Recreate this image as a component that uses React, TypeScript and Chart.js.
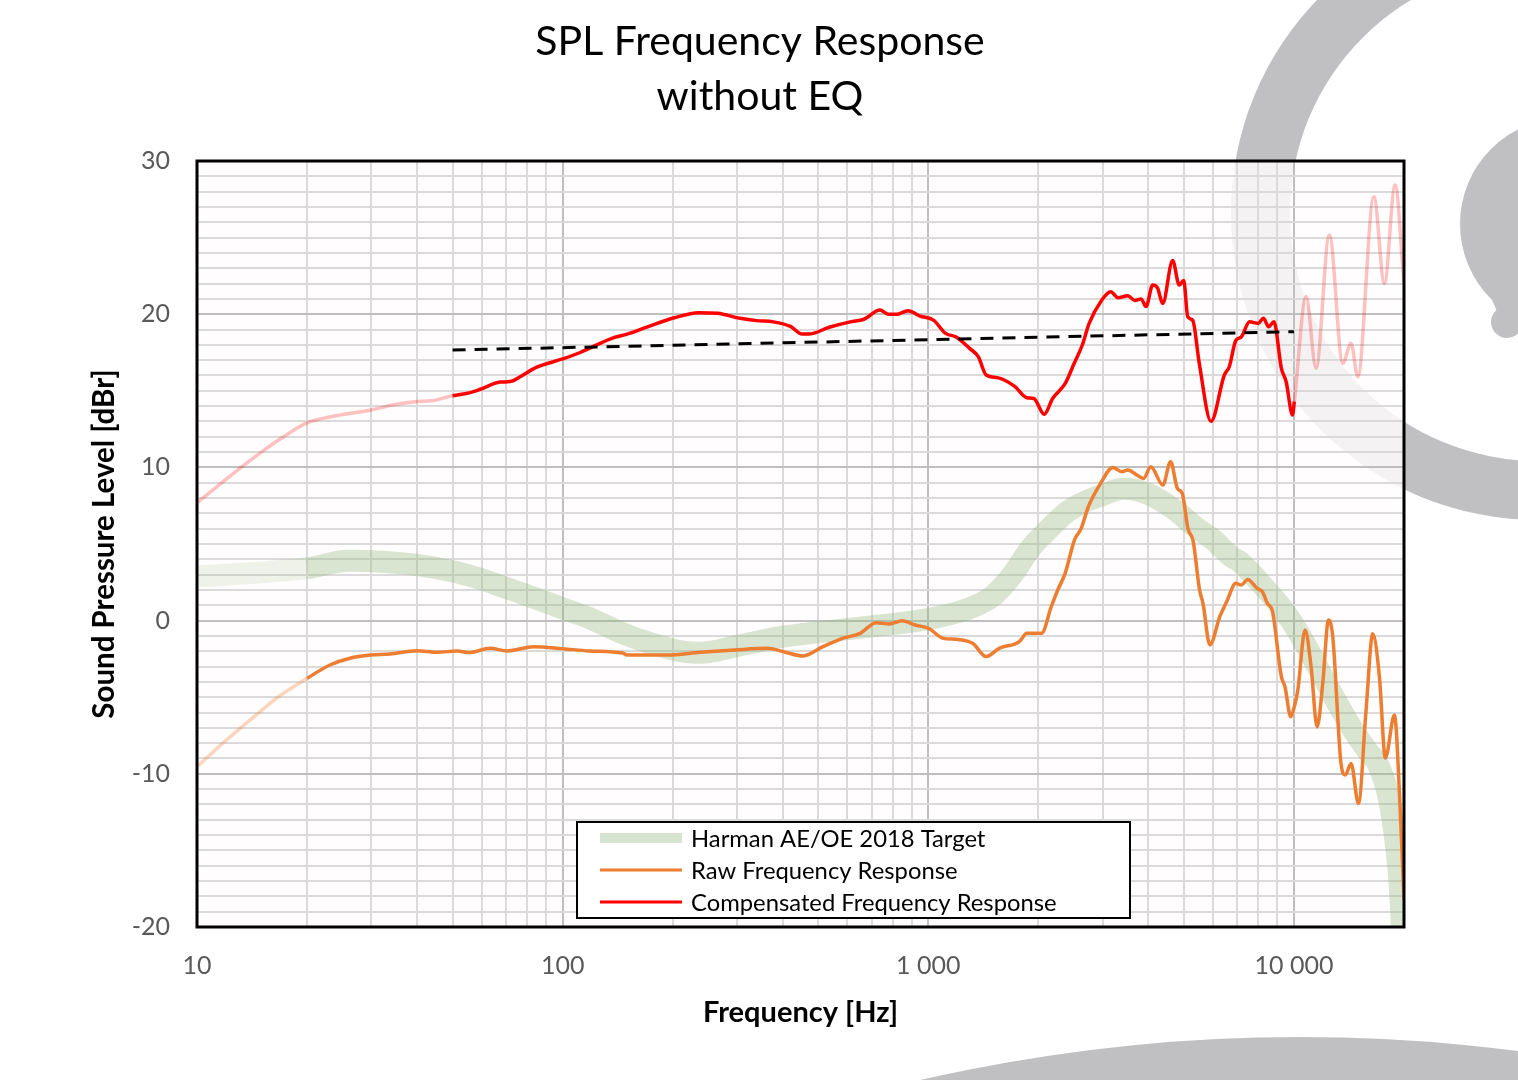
import React, { useEffect, useRef } from 'react';
import { Chart, registerables } from 'chart.js';

Chart.register(...registerables);

const FONT = 'Lato, "Open Sans", "DejaVu Sans", sans-serif';

// ---- text ----
const titleLines = ['SPL Frequency Response', 'without EQ'];
const xAxisTitle = 'Frequency [Hz]';
const yAxisTitle = 'Sound Pressure Level [dBr]';
const legendLabels = ['Harman AE/OE 2018 Target', 'Raw Frequency Response', 'Compensated Frequency Response'];

// ---- ticks ----
const xLabelValues = [10, 100, 1000, 10000];
const xLabelTexts = ['10', '100', '1 000', '10 000'];
const xGridValues = [
  10, 20, 30, 40, 50, 60, 70, 80, 90,
  100, 200, 300, 400, 500, 600, 700, 800, 900,
  1000, 2000, 3000, 4000, 5000, 6000, 7000, 8000, 9000,
  10000, 20000,
];
const yLabelValues = [-20, -10, 0, 10, 20, 30];
const yGridValues: number[] = [];
for (let v = -20; v <= 30; v++) yGridValues.push(v);

// ---- Harman AE/OE 2018 target ----
const harmanFreq = [10, 15, 20, 26, 30, 40, 51, 60, 70, 80, 100, 120, 146, 170, 214, 240, 300, 400, 550, 750, 1000, 1280, 1500, 1700, 1900, 2100, 2370, 2650, 2960, 3420, 3960, 4680, 5450, 6000, 6800, 7100, 8200, 9000, 10000, 11000, 12400, 14300, 16000, 17000, 18500, 19500, 20000];
const harmanDb = [2.87, 3.15, 3.42, 3.9, 3.87, 3.63, 3.17, 2.7, 2.13, 1.65, 0.8, 0.1, -0.83, -1.4, -2.03, -2.1, -1.65, -1.05, -0.65, -0.3, 0.1, 0.75, 1.6, 3.0, 4.7, 5.8, 7.0, 7.7, 8.15, 8.6, 8.3, 7.3, 6.0, 5.3, 4.1, 3.85, 2.3, 1.2, -0.3, -2.0, -4.3, -6.9, -8.6, -9.4, -12.6, -17.5, -23];

// ---- Raw frequency response ----
const rawFreq = [10, 11.9, 14.7, 16.7, 20, 23.1, 26.2, 29.8, 33.7, 39.9, 45.3, 51.4, 55.3, 63.4, 70.4, 83.3, 100, 118, 146, 150, 193, 238, 295, 363, 402, 455, 515, 583, 651, 721, 782, 848, 921, 1000, 1100, 1192, 1322, 1440, 1563, 1774, 1860, 2040, 2170, 2260, 2369, 2510, 2620, 2740, 2960, 3200, 3380, 3514, 3720, 3880, 4060, 4380, 4600, 4800, 4950, 5130, 5300, 5520, 5640, 5890, 6270, 6550, 6940, 7170, 7480, 7930, 8200, 8460, 8740, 9240, 9450, 9800, 10025, 10250, 10725, 11140, 11570, 11990, 12430, 12770, 13450, 13820, 14330, 15010, 15750, 16430, 17130, 17790, 18830, 19500, 20000];
const rawDb = [-9.54, -7.9, -6.05, -4.97, -3.77, -2.9, -2.46, -2.25, -2.18, -1.96, -2.07, -1.98, -2.09, -1.81, -1.98, -1.7, -1.83, -1.98, -2.12, -2.25, -2.25, -2.07, -1.92, -1.81, -2.03, -2.31, -1.7, -1.16, -0.83, -0.14, -0.22, -0.01, -0.29, -0.5, -1.16, -1.22, -1.48, -2.35, -1.81, -1.37, -0.83, -0.83, 0.92, 2.0, 3.1, 5.26, 6.02, 7.43, 8.96, 10.0, 9.72, 9.83, 9.5, 9.28, 10.04, 8.85, 10.37, 8.63, 8.3, 6.0, 5.2, 2.0, 1.13, -1.59, 0.26, 1.24, 2.43, 2.32, 2.69, 2.1, 1.89, 1.13, 0.58, -3.66, -4.31, -6.27, -5.62, -4.53, -0.61, -3.0, -6.93, -4.1, 0.04, -1.05, -9.32, -10.08, -9.32, -11.93, -5.84, -0.86, -3.66, -8.97, -6.16, -12, -18.2];
const rawSolidFrom = 20;

// ---- Compensated frequency response ----
const compFreq = [10, 11.7, 13.2, 15, 17, 20, 23.8, 30, 34.8, 40, 44, 50, 55.9, 59.6, 67.4, 71.8, 76.5, 84.7, 100, 111.7, 124, 138, 150, 170, 202, 236, 265, 306, 339, 377, 420, 452, 471, 536, 612, 667, 738, 777, 822, 880, 950, 1035, 1112, 1195, 1297, 1370, 1440, 1543, 1720, 1860, 1943, 2075, 2188, 2369, 2507, 2638, 2754, 2977, 3155, 3300, 3514, 3670, 3820, 3940, 4108, 4238, 4376, 4659, 4858, 4996, 5123, 5287, 5509, 5934, 6450, 6655, 6940, 7170, 7560, 7987, 8253, 8530, 8817, 9240, 9520, 9912, 10025, 10795, 11495, 12500, 13600, 14330, 14950, 16540, 17680, 18910, 19860, 20000];
const compDb = [7.7, 9.0, 10.0, 11.0, 11.9, 12.9, 13.35, 13.75, 14.1, 14.3, 14.35, 14.68, 14.88, 15.1, 15.57, 15.6, 15.92, 16.53, 17.08, 17.5, 18.0, 18.47, 18.7, 19.16, 19.77, 20.1, 20.06, 19.73, 19.58, 19.5, 19.2, 18.7, 18.7, 19.15, 19.5, 19.67, 20.27, 20.0, 20.0, 20.23, 19.88, 19.6, 18.77, 18.5, 17.77, 17.23, 16.03, 15.86, 15.31, 14.55, 14.5, 13.47, 14.5, 15.48, 16.8, 17.99, 19.4, 20.9, 21.47, 21.08, 21.2, 20.9, 21.0, 20.5, 21.9, 21.7, 20.7, 23.5, 21.9, 22.2, 19.84, 19.6, 16.8, 13.0, 16.03, 16.57, 18.3, 18.5, 19.5, 19.4, 19.73, 19.18, 19.5, 16.47, 15.6, 13.42, 14.3, 21.15, 16.47, 25.17, 16.8, 18.1, 15.92, 27.67, 22.0, 28.43, 23.0, 22.0];
const compSolidFrom = 50;
const compSolidTo = 10025;

// ---- Trend line (dashed) ----
const trendFreq = [50, 10000];
const trendDb = [17.66, 18.86];

const pts = (xs: number[], ys: number[]) => xs.map((x, i) => ({ x, y: ys[i] }));

const ORANGE = '#ED7D31';
const ORANGE_PALE = 'rgba(237,125,49,0.3)';
const RED = '#FF0000';
const RED_PALE = 'rgba(255,0,0,0.24)';
const GREEN = 'rgba(150,185,130,0.36)';
const GREEN_PALE = 'rgba(150,185,130,0.16)';
const GRID_MINOR = '#dadada';
const GRID_MAJOR = '#bfbfbf';
const LOGO = '#c0bfc2';

const backgroundPlugin = {
  id: 'bgLogo',
  beforeDraw(chart: any) {
    const { ctx, width, height, chartArea } = chart;
    ctx.save();
    ctx.fillStyle = '#ffffff';
    ctx.fillRect(0, 0, width, height);
    ctx.fillStyle = LOGO;
    // ring
    ctx.beginPath();
    ctx.arc(1538, 213, 307, 0, Math.PI * 2, false);
    ctx.moveTo(1538 + 248, 213);
    ctx.arc(1538, 213, 248, 0, Math.PI * 2, true);
    ctx.fill();
    // blob
    ctx.beginPath();
    ctx.arc(1566, 224, 106, 0, Math.PI * 2);
    ctx.fill();
    ctx.beginPath();
    ctx.arc(1507, 322, 16, 0, Math.PI * 2);
    ctx.fill();
    ctx.beginPath();
    ctx.moveTo(1492, 300);
    ctx.lineTo(1520, 290);
    ctx.lineTo(1520, 330);
    ctx.lineTo(1500, 318);
    ctx.closePath();
    ctx.fill();
    // bottom arc
    ctx.beginPath();
    ctx.arc(1300, 2737, 1700, 0, Math.PI * 2);
    ctx.fill();
    // plot background (semi-opaque white)
    ctx.fillStyle = 'rgba(255,252,253,0.82)';
    ctx.fillRect(chartArea.left, chartArea.top, chartArea.right - chartArea.left, chartArea.bottom - chartArea.top);
    ctx.restore();
  },
  afterDraw(chart: any) {
    const { ctx, chartArea } = chart;
    ctx.save();
    // plot frame
    ctx.strokeStyle = '#000';
    ctx.lineWidth = 3;
    ctx.strokeRect(chartArea.left, chartArea.top, chartArea.right - chartArea.left, chartArea.bottom - chartArea.top);
    // title
    ctx.fillStyle = '#000';
    ctx.font = `41px ${FONT}`;
    ctx.textAlign = 'center';
    ctx.textBaseline = 'middle';
    ctx.fillText(titleLines[0], 760, 42);
    ctx.fillText(titleLines[1], 760, 97);
    // legend
    const bx = 577, by = 822, bw = 553, bh = 96;
    ctx.fillStyle = '#fff';
    ctx.fillRect(bx, by, bw, bh);
    ctx.strokeStyle = '#000';
    ctx.lineWidth = 2;
    ctx.strokeRect(bx, by, bw, bh);
    const styles = [
      { c: 'rgba(150,185,130,0.38)', w: 10 },
      { c: ORANGE, w: 3 },
      { c: RED, w: 3 },
    ];
    ctx.font = `23.8px ${FONT}`;
    ctx.textAlign = 'left';
    legendLabels.forEach((t, i) => {
      const yy = 838 + i * 32;
      ctx.strokeStyle = styles[i].c;
      ctx.lineWidth = styles[i].w;
      ctx.beginPath();
      ctx.moveTo(600, yy);
      ctx.lineTo(682, yy);
      ctx.stroke();
      ctx.fillStyle = '#000';
      ctx.fillText(t, 691, yy + 1);
    });
    ctx.restore();
  },
};

export default function App() {
  const ref = useRef<HTMLCanvasElement>(null);
  useEffect(() => {
    const canvas = ref.current;
    if (!canvas) return;
    const chart = new Chart(canvas, {
      type: 'line',
      data: {
        datasets: [
          {
            label: 'Trend',
            data: pts(trendFreq, trendDb),
            borderColor: '#000',
            borderWidth: 3,
            borderDash: [13, 9],
            pointRadius: 0,
            tension: 0,
          },
          {
            label: legendLabels[2],
            data: pts(compFreq, compDb),
            borderColor: RED,
            borderWidth: 3.5,
            pointRadius: 0,
            cubicInterpolationMode: 'monotone',
            segment: {
              borderColor: (c: any) =>
                c.p0.parsed.x < compSolidFrom || c.p0.parsed.x >= compSolidTo ? RED_PALE : RED,
            },
          },
          {
            label: legendLabels[1],
            data: pts(rawFreq, rawDb),
            borderColor: ORANGE,
            borderWidth: 3.5,
            pointRadius: 0,
            cubicInterpolationMode: 'monotone',
            segment: {
              borderColor: (c: any) => (c.p1.parsed.x <= rawSolidFrom ? ORANGE_PALE : ORANGE),
            },
          },
          {
            label: legendLabels[0],
            data: pts(harmanFreq, harmanDb),
            borderColor: GREEN,
            borderWidth: 22,
            borderCapStyle: 'butt',
            pointRadius: 0,
            cubicInterpolationMode: 'monotone',
            segment: {
              borderColor: (c: any) => (c.p1.parsed.x <= 20 ? GREEN_PALE : GREEN),
            },
          },
        ],
      } as any,
      options: {
        responsive: false,
        animation: false,
        devicePixelRatio: 1,
        layout: { padding: { top: 161, right: 114, bottom: 0, left: 0 } },
        plugins: {
          legend: { display: false },
          title: { display: false },
          tooltip: { enabled: false },
        },
        scales: {
          x: {
            type: 'logarithmic',
            min: 10,
            max: 20000,
            afterBuildTicks: (s: any) => {
              s.ticks = xGridValues.map((v) => ({ value: v }));
            },
            afterFit: (s: any) => {
              s.height = 153;
            },
            ticks: {
              autoSkip: false,
              maxRotation: 0,
              padding: 24,
              color: '#595959',
              font: { family: FONT, size: 25 },
              callback: (v: any) => {
                const i = xLabelValues.indexOf(Number(v));
                return i >= 0 ? xLabelTexts[i] : '';
              },
            },
            grid: {
              drawTicks: false,
              lineWidth: 2,
              color: (c: any) => (c.tick && xLabelValues.includes(c.tick.value) ? GRID_MAJOR : GRID_MINOR),
            },
            border: { display: false },
            title: {
              display: true,
              text: xAxisTitle,
              color: '#000',
              font: { family: FONT, size: 29, weight: 'bold' },
              padding: { top: 0, bottom: 50 },
            },
          },
          y: {
            type: 'linear',
            min: -20,
            max: 30,
            afterBuildTicks: (s: any) => {
              s.ticks = yGridValues.map((v) => ({ value: v }));
            },
            afterFit: (s: any) => {
              s.width = 197;
            },
            ticks: {
              autoSkip: false,
              padding: 27,
              color: '#595959',
              font: { family: FONT, size: 25 },
              callback: (v: any) => (yLabelValues.includes(Number(v)) ? String(v) : ''),
            },
            grid: {
              drawTicks: false,
              lineWidth: 2,
              color: (c: any) => (c.tick && yLabelValues.includes(c.tick.value) ? GRID_MAJOR : GRID_MINOR),
            },
            border: { display: false },
            title: {
              display: true,
              text: yAxisTitle,
              color: '#000',
              font: { family: FONT, size: 29.5, weight: 'bold' },
              padding: { top: 87, bottom: 0 },
            },
          },
        },
      } as any,
      plugins: [backgroundPlugin],
    });
    return () => chart.destroy();
  }, []);
  return (
    <div style={{ position: 'absolute', left: 0, top: 0, width: 1518, height: 1080 }}>
      <canvas ref={ref} width={1518} height={1080} style={{ display: 'block' }} />
    </div>
  );
}
